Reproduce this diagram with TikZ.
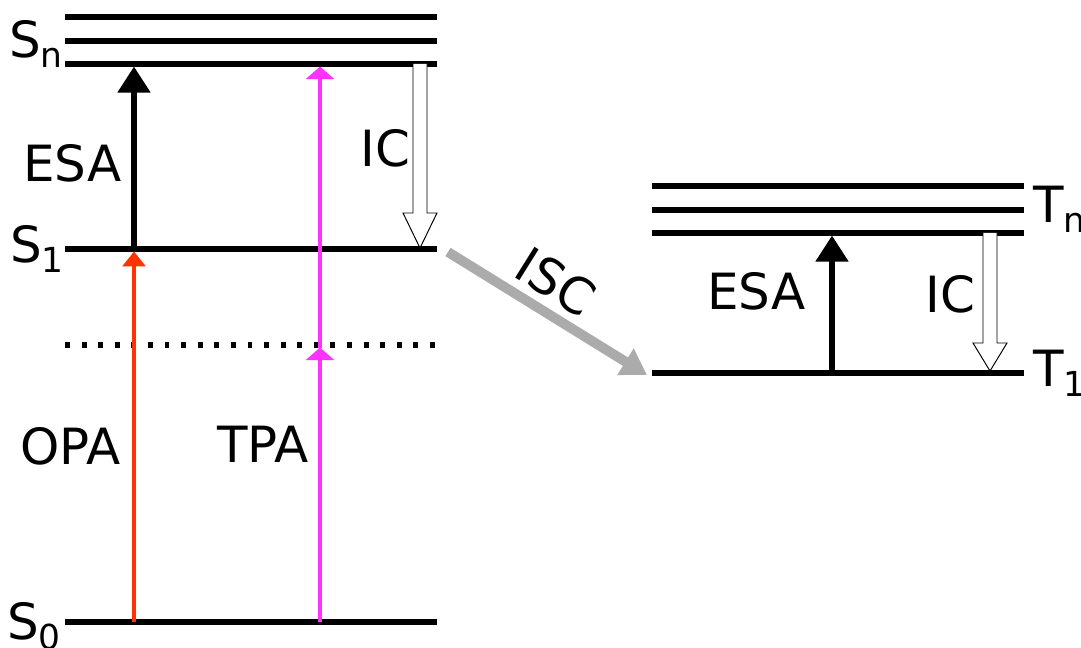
\documentclass[tikz,border=0pt]{standalone}
\usepackage{fontspec}
\setmainfont{DejaVu Sans}
\usetikzlibrary{arrows.meta}

\definecolor{opared}{HTML}{FF3300}
\definecolor{tpamag}{HTML}{FF33FF}
\definecolor{iscgray}{HTML}{ABABAB}

\newcommand\sub[1]{\raisebox{-7pt}{\fontsize{24.5}{24.5}\selectfont #1}}
% hollow IC arrow: x, top, head base, tip (pixels)
\newcommand\icarrow[4]{%
  \draw[hollow] (#1-7,#2) -- (#1-7,#3) -- (#1-17,#3) -- (#1,#4) -- (#1+17,#3) -- (#1+7,#3) -- (#1+7,#2);}

\begin{document}
\begin{tikzpicture}[
    x=0.025cm, y=-0.025cm,
    level/.style={line width=3.6pt},
    virtual/.style={line width=3.6pt, dash pattern=on 3.5pt off 8.3pt},
    lbl/.style={inner sep=0, font=\fontsize{35.5}{42}\selectfont},
    esa/.style={line width=4.2pt, -{Triangle[length=18.5pt, width=22.5pt]}},
    opa/.style={opared, line width=2.9pt, -{Triangle[length=10.5pt, width=16pt]}},
    tpa/.style={tpamag, line width=3.2pt, -{Triangle[length=9pt, width=20pt]}},
    isc/.style={iscgray, line width=7pt, -{Triangle[length=18pt, width=21pt]}},
    hollow/.style={draw=black, fill=white, line width=0.7pt, line join=miter}
]
\useasboundingbox (0,0) rectangle (1081,648);

% singlet levels
\coordinate (Sna) at (65,17);  \coordinate (Snb) at (437,17);
\coordinate (Sma) at (65,41);  \coordinate (Smb) at (437,41);
\coordinate (Sla) at (65,64);  \coordinate (Slb) at (437,64);
\coordinate (S1a) at (65,249); \coordinate (S1b) at (437,249);
\coordinate (Va)  at (65,345); \coordinate (Vb)  at (437,345);
\coordinate (S0a) at (65,622); \coordinate (S0b) at (437,622);
% triplet levels
\coordinate (Tna) at (652,186); \coordinate (Tnb) at (1024,186);
\coordinate (Tma) at (652,210); \coordinate (Tmb) at (1024,210);
\coordinate (Tla) at (652,233); \coordinate (Tlb) at (1024,233);
\coordinate (T1a) at (652,373); \coordinate (T1b) at (1024,373);
% arrow columns
\coordinate (xO) at (134,0);
\coordinate (xT) at (320,0);
\coordinate (xE) at (832,0);

\foreach \a/\b in {Sna/Snb, Sma/Smb, Sla/Slb, S1a/S1b, S0a/S0b,
                   Tna/Tnb, Tma/Tmb, Tla/Tlb, T1a/T1b}
  \draw[level] (\a) -- (\b);
\draw[virtual] (Va) -- (Vb);

% level labels
\node[lbl, anchor=base west] (lSn) at (9,58)    {S\sub{n}};
\node[lbl, anchor=base west] (lS1) at (10,263)  {S\sub{1}};
\node[lbl, anchor=base west] (lS0) at (7,640)   {S\sub{0}};
\node[lbl, anchor=base west] (lTn) at (1033,223) {T\sub{n}};
\node[lbl, anchor=base west] (lT1) at (1033,387) {T\sub{1}};

% transitions
\draw[opa] (xO |- S0a) -- ([yshift=-1.8pt]xO |- S1a);
\draw[esa] (xO |- S1a) -- ([yshift=-1.8pt]xO |- Sla);
\draw[tpa] (xT |- S0a) -- ([yshift=-1.8pt]xT |- Va);
\draw[tpa] ([yshift=-1.8pt]xT |- Va) -- ([yshift=-1.8pt]xT |- Sla);
\draw[esa] ([yshift=1.8pt]xE |- T1a) -- ([yshift=-1.8pt]xE |- Tla);
\icarrow{420}{64}{213}{248}
\icarrow{990}{233}{343}{371}
\coordinate (iscA) at (448,252);
\coordinate (iscB) at (647,375);
\draw[isc] (iscA) -- (iscB);

% transition labels
\node[lbl, anchor=base west] (lESA) at (23,182)  {ESA};
\node[lbl, anchor=base west] (lIC)  at (360,167) {IC};
\node[lbl, anchor=base west] (lOPA) at (20,465)  {OPA};
\node[lbl, anchor=base west] (lTPA) at (217,463) {TPA};
\node[lbl, anchor=base west] (rESA) at (707,310) {ESA};
\node[lbl, anchor=base west] (rIC)  at (925,313) {IC};
\node[lbl, rotate=-32] (lISC) at (556,282) {ISC};

\end{tikzpicture}
\end{document}
